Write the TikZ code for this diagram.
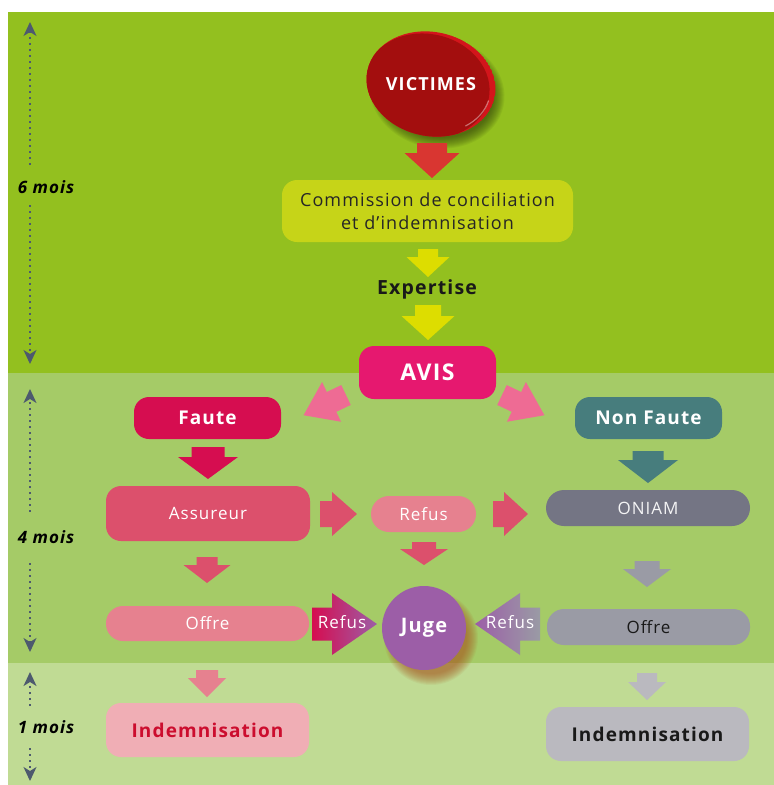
\documentclass[tikz,border=0pt]{standalone}
\usepackage{fontspec}
\setmainfont{Open Sans}[LetterSpace=6]
\usetikzlibrary{arrows.meta}
\definecolor{bgA}{HTML}{93C01F}
\definecolor{bgB}{HTML}{A5CB67}
\definecolor{bgC}{HTML}{C0DB94}
\definecolor{tline}{HTML}{4D5A6E}
\definecolor{victim}{HTML}{A30E0E}
\definecolor{victimrim}{HTML}{D3151B}
\definecolor{arrRed}{HTML}{D93631}
\definecolor{comm}{HTML}{C6D418}
\definecolor{arrYel}{HTML}{DDDD00}
\definecolor{avis}{HTML}{E6186F}
\definecolor{diag}{HTML}{EE6B94}
\definecolor{faute}{HTML}{D60D50}
\definecolor{nonfaute}{HTML}{477D7D}
\definecolor{assur}{HTML}{DC506C}
\definecolor{lpink}{HTML}{E6818F}
\definecolor{oniam}{HTML}{747584}
\definecolor{greyB}{HTML}{9A9BA5}
\definecolor{juge}{HTML}{9C5EA7}
\definecolor{indL}{HTML}{F0AEB5}
\definecolor{indLtxt}{HTML}{CC0D2E}
\definecolor{indR}{HTML}{BAB9BF}
\definecolor{shadowbrown}{HTML}{A8561E}
\newcommand{\blkarrow}[7]{\fill[#1,shift={#2},rotate=#3] (0,-#6) -- ({#4-#5},-#6) -- ({#4-#5},-#7) -- (#4,0) -- ({#4-#5},#7) -- ({#4-#5},#6) -- (0,#6) -- cycle;}
\tikzset{
  box/.style={rounded corners=15pt, inner sep=0pt, align=center},
  pill/.style={rounded corners=17pt, inner sep=0pt, align=center},
  reg/.style={font=\fontsize{17}{20}\selectfont},
  bld/.style={font=\bfseries\fontsize{19}{23}\selectfont},
  tl/.style={tline, line width=1.6pt, dash pattern=on 2pt off 4pt, -{Stealth[length=14pt,width=13pt,inset=4pt]}},
  tlabel/.style={font=\bfseries\itshape\fontsize{17}{20}\selectfont, text=black, inner sep=0pt}
}
\begin{document}
\begin{tikzpicture}[x=1pt,y=-1pt]
\useasboundingbox (0,0) rectangle (774,785);
\fill[white] (0,0) rectangle (774,785);
% panels
\fill[bgA] (8,12) rectangle (774,373);
\fill[bgB] (8,373) rectangle (774,663);
\fill[bgC] (8,663) rectangle (774,785);

% timeline
\coordinate (t1u) at (30,22);  \coordinate (t1a) at (30,165);
\coordinate (t1b) at (30,205); \coordinate (t1d) at (30,364);
\coordinate (t2u) at (30,389); \coordinate (t2a) at (30,512);
\coordinate (t2b) at (30,563); \coordinate (t2d) at (30,652);
\coordinate (t3u) at (30,672); \coordinate (t3a) at (30,706);
\coordinate (t3b) at (30,748); \coordinate (t3d) at (30,781);
\draw[tl] (t1a) -- (t1u);
\draw[tl] (t1b) -- (t1d);
\draw[tl] (t2a) -- (t2u);
\draw[tl] (t2b) -- (t2d);
\draw[tl] (t3a) -- (t3u);
\draw[tl] (t3b) -- (t3d);
\node[tlabel] (m6) at (46,187) {6 mois};
\node[tlabel] (m4) at (46,537) {4 mois};
\node[tlabel] (m1) at (46,727) {1 mois};

% VICTIMES shadow
\foreach \k in {0,...,11}
  \fill[black!70!bgA, opacity=0.07, rotate around={-12:(437,92)}] (437,92) ellipse ({68-\k} and {56-\k});
% VICTIMES
\begin{scope}
  \clip[rotate around={-12:(431,84)}] (431,84) ellipse (65 and 52);
  \fill[victimrim, rotate around={-12:(431,84)}] (431,84) ellipse (65 and 52);
  \fill[victim, rotate around={-12:(427,86)}] (427,86) ellipse (63 and 52);
  \draw[white, opacity=0.4, line width=1.2pt, rotate around={-12:(431,84)}] (431,84) ++(45:60 and 48) arc (45:5:60 and 48);
\end{scope}
\node[font=\bfseries\fontsize{18}{21}\selectfont, text=white, inner sep=0pt] (vic) at (431,84.5) {VICTIMES};

\blkarrow{arrRed}{(432,143)}{-90}{35}{25}{15}{27.5}

\node[box, fill=comm, minimum width=291pt, minimum height=62pt, font=\fontsize{18}{22.5}\selectfont, text=black!85] (com) at (427.5,211) {Commission de conciliation\\et d’indemnisation};

\blkarrow{arrYel}{(428,249)}{-90}{28}{20}{10}{21.5}
\node[font=\bfseries\fontsize{19.5}{22}\selectfont, text=black!90, inner sep=0pt] (exp) at (427,289) {Expertise};
\blkarrow{arrYel}{(428,305)}{-90}{35}{24}{13}{26.5}

\node[box, fill=avis, minimum width=137pt, minimum height=53pt, text=white, font=\bfseries\fontsize{23}{26}\selectfont] (avis) at (427.5,372.5) {AVIS};

\blkarrow{diag}{(502,395)}{-25.5}{47}{31}{11}{22}
\blkarrow{diag}{(346,395)}{-154.5}{47}{31}{11}{22}

\node[box, fill=faute, minimum width=147pt, minimum height=42pt, text=white, bld] (faute) at (207.5,418) {Faute};
\node[box, fill=nonfaute, minimum width=147pt, minimum height=42pt, text=white, bld] (nonf) at (648.5,418) {Non Faute};

\blkarrow{faute}{(208,447)}{-90}{32}{22}{16.5}{30}
\blkarrow{nonfaute}{(648,451)}{-90}{32}{23}{15.5}{30}

\node[box, fill=assur, minimum width=204pt, minimum height=55pt, text=white, reg] (assur) at (208,513.5) {Assureur};
\node[pill, rounded corners=18pt, fill=lpink, minimum width=105pt, minimum height=36pt, text=white, reg] (refus) at (423.5,514) {Refus};
\node[pill, rounded corners=18pt, fill=oniam, minimum width=204pt, minimum height=36pt, text=white!92!oniam, reg] (oniam) at (648,508) {ONIAM};

\blkarrow{assur}{(320,514)}{0}{37}{25}{13}{22}
\blkarrow{assur}{(493,514)}{0}{35}{24}{13}{22}
\blkarrow{assur}{(424,542)}{-90}{23}{16}{12}{24}
\blkarrow{assur}{(207,557)}{-90}{26}{18}{10.5}{23.5}
\blkarrow{greyB}{(647,561)}{-90}{26}{18}{12.5}{24}

\node[pill, fill=lpink, minimum width=203pt, minimum height=35pt, text=white, reg] (offreL) at (207.5,623.5) {Offre};
\node[pill, fill=greyB, minimum width=203pt, minimum height=36pt, text=black!90, reg] (offreR) at (648.5,627) {Offre};

% Juge glow
\foreach \k in {0,...,11}
  \fill[shadowbrown, opacity=0.075] (431,638) circle ({47-\k});
\node[circle, fill=juge, minimum size=84pt, inner sep=0pt, text=white, font=\bfseries\fontsize{20}{24}\selectfont] (juge) at (424,628) {Juge};

% gradient refus arrows
\shade[left color=faute, right color=juge] (312,607.5) -- (332,607.5) -- (332,593) -- (377,624) -- (332,655) -- (332,640.5) -- (312,640.5) -- cycle;
\node[reg, text=white, inner sep=0pt] (refL) at (342,622) {Refus};
\shade[left color=juge, right color=greyB] (540,607.5) -- (520,607.5) -- (520,593) -- (475,624) -- (520,655) -- (520,640.5) -- (540,640.5) -- cycle;
\node[reg, text=white, inner sep=0pt] (refR) at (510,622) {Refus};

\blkarrow{lpink}{(207,670)}{-90}{27}{19}{11}{19}
\blkarrow{indR}{(647,673)}{-90}{27}{18}{10}{19}

\node[box, fill=indL, minimum width=203pt, minimum height=54pt, text=indLtxt, font=\bfseries\fontsize{19}{23}\selectfont] (indL) at (207.5,730) {Indemnisation};
\node[box, fill=indR, minimum width=203pt, minimum height=54pt, text=black!90, font=\bfseries\fontsize{19}{23}\selectfont] (indR) at (647.5,734) {Indemnisation};
\end{tikzpicture}
\end{document}
